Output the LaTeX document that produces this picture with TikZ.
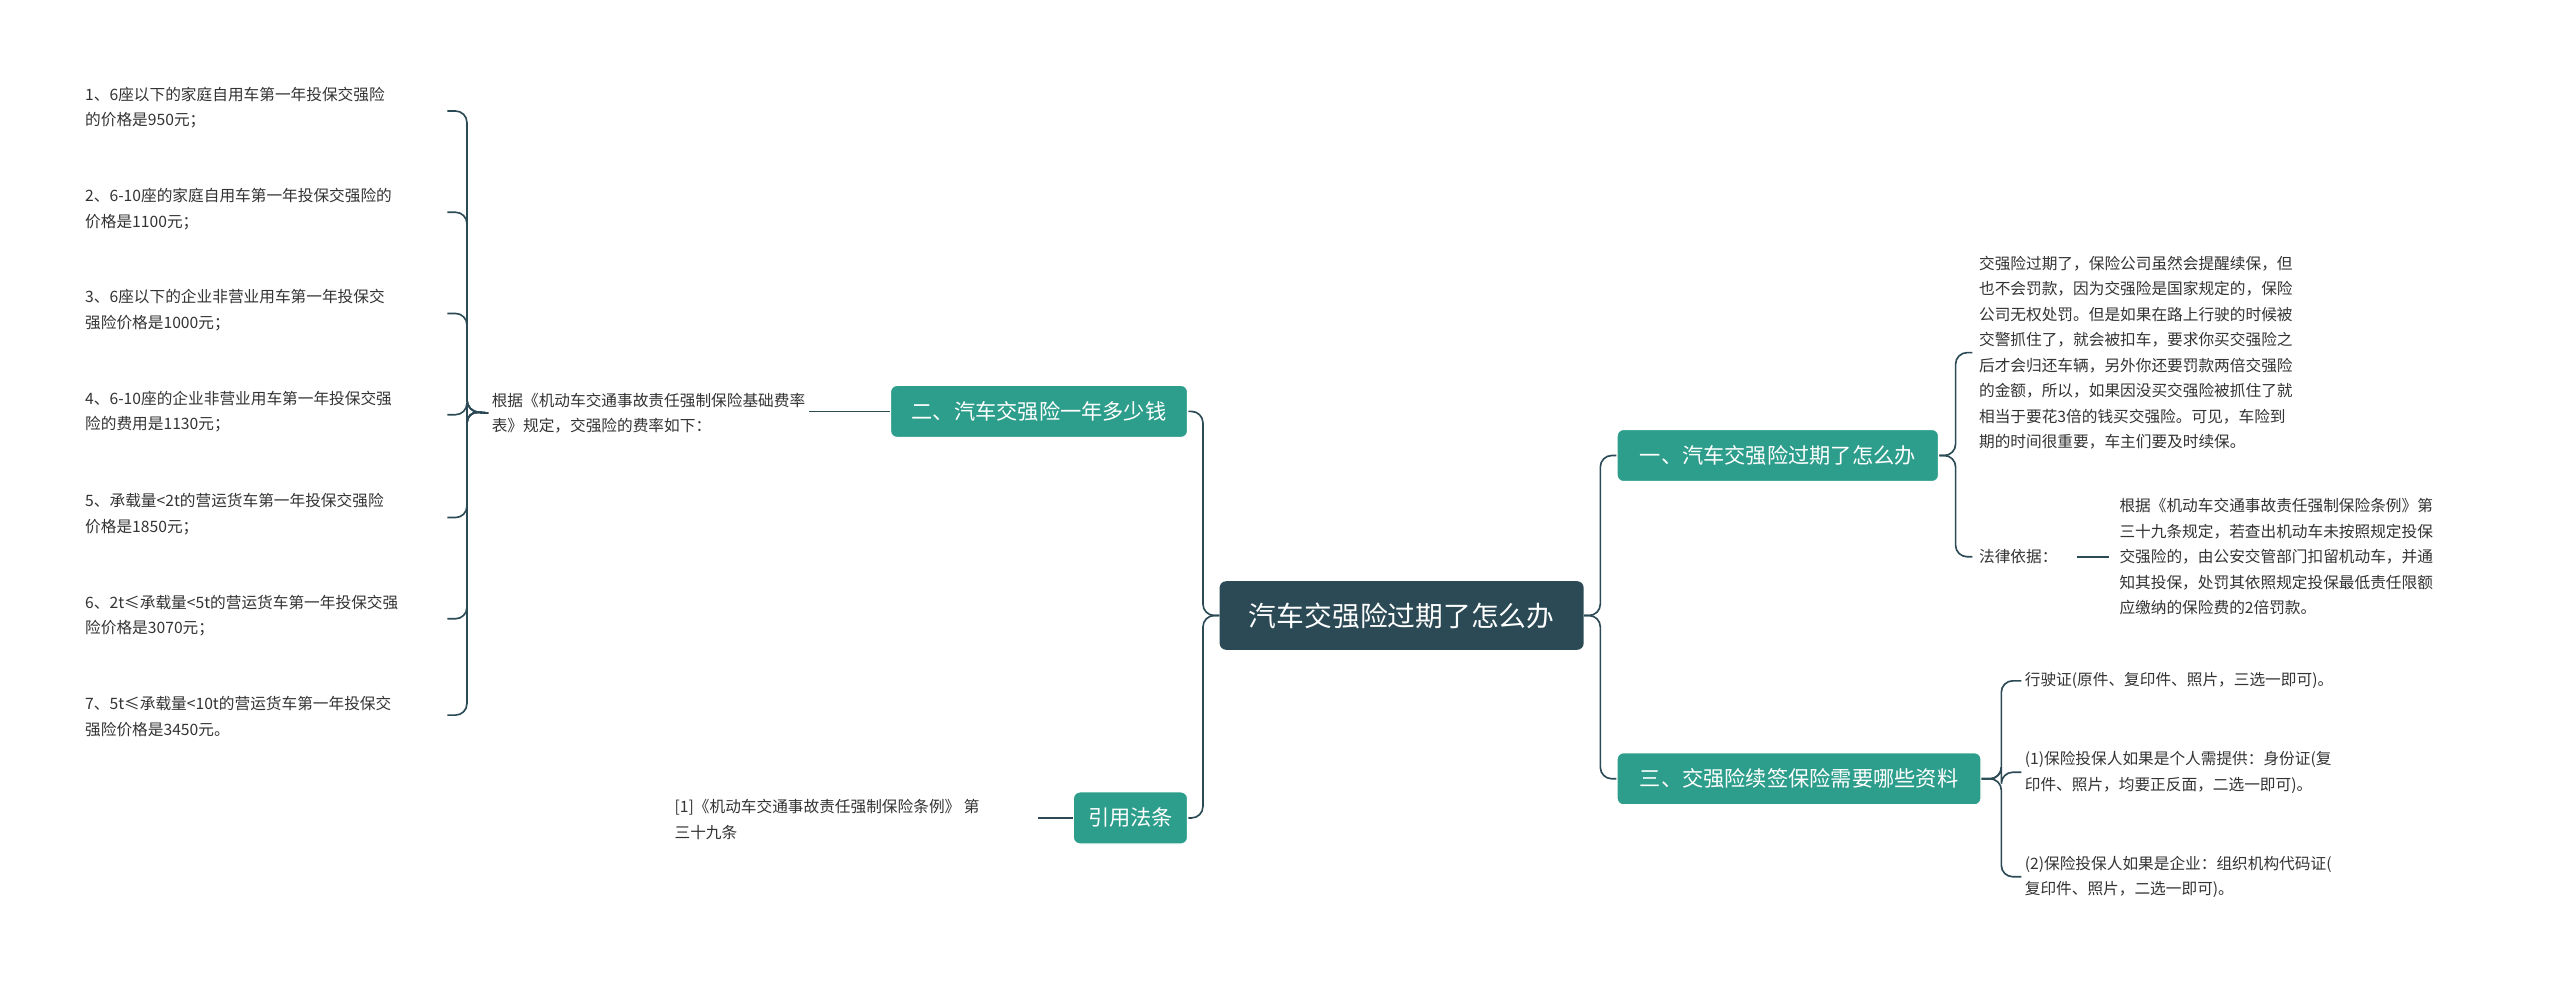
\documentclass[tikz,border=0pt]{standalone}
\usepackage{fontspec}
\setmainfont{Noto Sans CJK SC}
\begin{document}
\begin{tikzpicture}[x=1pt,y=-1pt,
 ln/.style={draw=rootc,line width=1pt,rounded corners=7pt},
 br/.style={fill=teal1,draw=white,line width=0.8pt,rounded corners=4pt,text=white,font=\fontsize{13}{15}\selectfont,minimum height=32pt,inner xsep=6pt,anchor=west},
 lf/.style={font=\fontsize{9.6}{15.6}\selectfont,text=black!80,align=left,anchor=west,inner sep=2pt}]
\definecolor{rootc}{HTML}{2B4A56}
\definecolor{teal1}{HTML}{2E9E8C}
\useasboundingbox (0,0) rectangle (1568,601);
\fill[white] (0,0) rectangle (1568,601);
\node[fill=rootc,rounded corners=4pt,text=white,font=\fontsize{17}{20}\selectfont,minimum width=223pt,minimum height=42pt] (root) at (858.5,377) {汽车交强险过期了怎么办};
\node[br,minimum width=182pt] (b2) at (545,252) {二、汽车交强险一年多少钱};
\node[br,minimum width=70pt] (b4) at (657,501) {引用法条};
\node[br,minimum width=197pt] (b1) at (990,279) {一、汽车交强险过期了怎么办};
\node[br,minimum width=223pt] (b3) at (990,477) {三、交强险续签保险需要哪些资料};
\foreach \b in {b2,b4} \draw[ln] (root.west) -- ++(-10,0) |- (\b.east);
\foreach \b in {b1,b3} \draw[ln] (root.east) -- ++(10,0) |- (\b.west);
% b2 leaf
\node[lf] (l2) at (299,253) {根据《机动车交通事故责任强制保险基础费率\\表》规定，交强险的费率如下：};
\draw[ln] (b2.west) -- (l2.east|-b2.west);
\node[lf] (i1) at (50,66) {1、6座以下的家庭自用车第一年投保交强险\\的价格是950元；};
\node[lf] (i2) at (50,128) {2、6-10座的家庭自用车第一年投保交强险的\\价格是1100元；};
\node[lf] (i3) at (50,190) {3、6座以下的企业非营业用车第一年投保交\\强险价格是1000元；};
\node[lf] (i4) at (50,252) {4、6-10座的企业非营业用车第一年投保交强\\险的费用是1130元；};
\node[lf] (i5) at (50,315) {5、承载量<2t的营运货车第一年投保交强险\\价格是1850元；};
\node[lf] (i6) at (50,377) {6、2t≤承载量<5t的营运货车第一年投保交强\\险价格是3070元；};
\node[lf] (i7) at (50,439) {7、5t≤承载量<10t的营运货车第一年投保交\\强险价格是3450元。};
\foreach \i/\y in {i1/68,i2/130,i3/192,i4/254,i5/317,i6/379,i7/438}
  \draw[ln] (l2.west) -- (286,252) |- (274,\y);
% b4 leaf
\node[lf] (l4) at (411,502) {[1]《机动车交通事故责任强制保险条例》 第\\三十九条};
\draw[ln] (b4.west) -- (636,501);
% b1 leaves
\node[lf] (r1) at (1210,216) {交强险过期了，保险公司虽然会提醒续保，但\\也不会罚款，因为交强险是国家规定的，保险\\公司无权处罚。但是如果在路上行驶的时候被\\交警抓住了，就会被扣车，要求你买交强险之\\后才会归还车辆，另外你还要罚款两倍交强险\\的金额，所以，如果因没买交强险被抓住了就\\相当于要花3倍的钱买交强险。可见，车险到\\期的时间很重要，车主们要及时续保。};
\node[lf] (r2) at (1210,341) {法律依据：};
\node[lf] (r3) at (1296,341) {根据《机动车交通事故责任强制保险条例》第\\三十九条规定，若查出机动车未按照规定投保\\交强险的，由公安交管部门扣留机动车，并通\\知其投保，处罚其依照规定投保最低责任限额\\应缴纳的保险费的2倍罚款。};
\draw[ln] (b1.east) -- ++(10,0) |- (1208,216);
\draw[ln] (b1.east) -- ++(10,0) |- (1208,341);
\draw[ln] (1272,341) -- (1292,341);
% b3 leaves
\node[lf] (s1) at (1238,417) {行驶证(原件、复印件、照片，三选一即可)。};
\node[lf] (s2) at (1238,473) {(1)保险投保人如果是个人需提供：身份证(复\\印件、照片，均要正反面，二选一即可)。};
\node[lf] (s3) at (1238,537) {(2)保险投保人如果是企业：组织机构代码证(\\复印件、照片，二选一即可)。};
\foreach \s in {s1,s2,s3} \draw[ln] (b3.east) -- ++(12,0) |- (\s.west);
\end{tikzpicture}
\end{document}
